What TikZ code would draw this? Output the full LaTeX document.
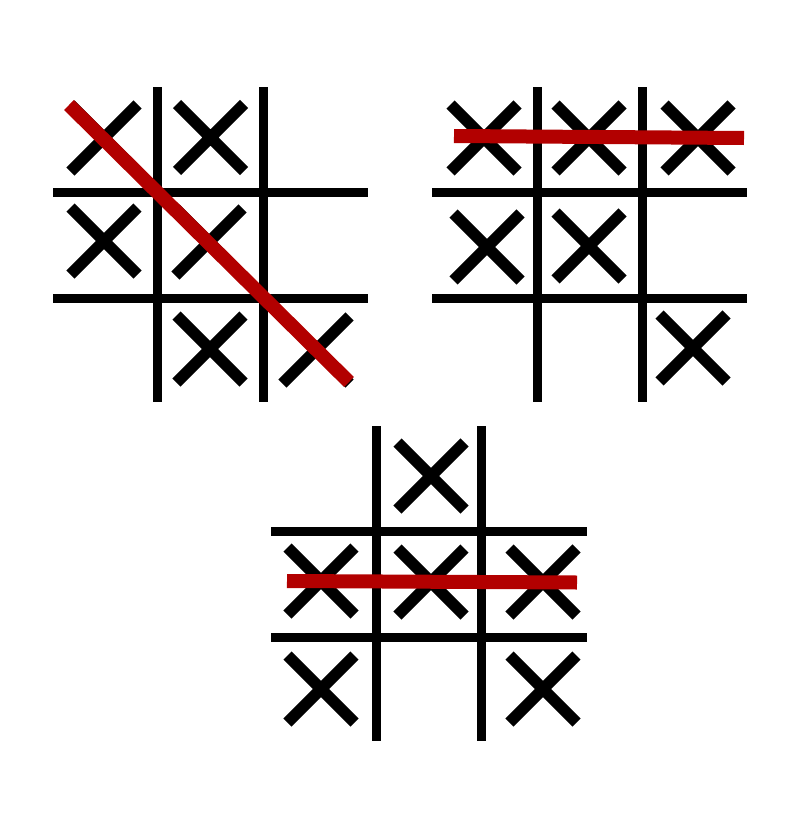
\documentclass[tikz,border=0pt]{standalone}
\begin{document}
\begin{tikzpicture}[x=0.75pt,y=-0.75pt,
  gridline/.style={line width=6.75pt,black},
  xstroke/.style={line width=8.6pt,black},
  winline/.style={line width=10.5pt,winred},
  xmark/.pic={\draw[xstroke] (-33.5,-33.5)--(33.5,33.5) (-33.5,33.5)--(33.5,-33.5);}]
\definecolor{winred}{RGB}{178,0,0}
\useasboundingbox[fill=white] (0,0) rectangle (800,828);
% Grid 1
\draw[gridline] (157.5,87)--(157.5,402) (263.5,87)--(263.5,402)
  (53,192)--(368,192) (53,298)--(368,298);
\foreach \p in {(104,138),(210.5,137.5),(104,241),(209,242),(210,349),(316,350)}
  \pic at \p {xmark};
\draw[winline] (69,105)--(349,382);
% Grid 2
\draw[gridline] (537,87)--(537,402) (642,87)--(642,402)
  (432,192)--(747,192) (432,298)--(747,298);
\foreach \p in {(484,138),(589,138),(698,138),(487,247),(589,246),(693,348)}
  \pic at \p {xmark};
\draw[winline] (454,136)--(744,138);
% Grid 3
\draw[gridline] (376,426)--(376,741) (481.5,426)--(481.5,741)
  (271,531)--(587,531) (271,637)--(587,637);
\foreach \p in {(431,476),(321,581),(431,582),(543,582),(321,689),(543,689)}
  \pic at \p {xmark};
\draw[winline] (287,581)--(577,582.5);
\end{tikzpicture}
\end{document}
